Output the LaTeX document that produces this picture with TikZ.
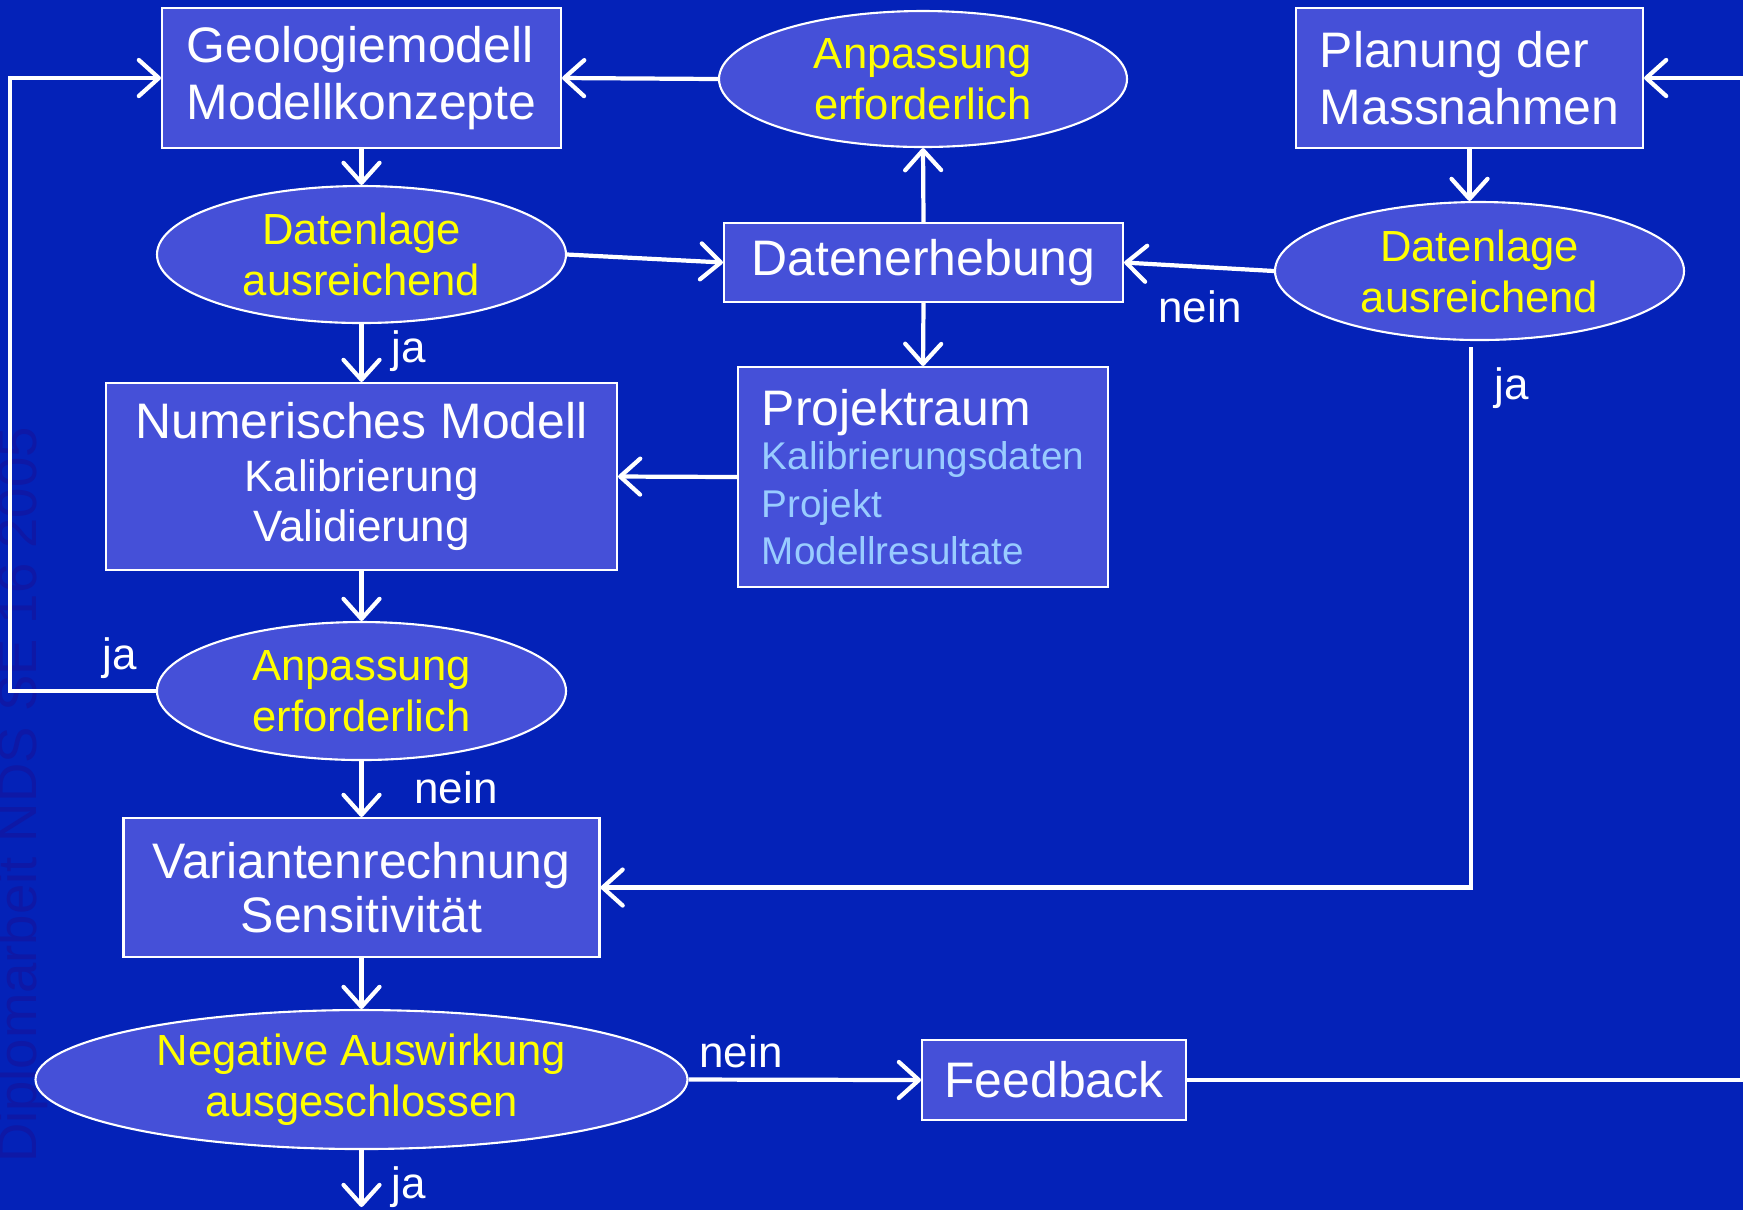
\documentclass[tikz,border=0pt]{standalone}
\usepackage{fontspec}
\setmainfont{Liberation Sans}
\usepackage{tikz}
\usetikzlibrary{shapes.geometric, arrows.meta}
\definecolor{hgBlau}{RGB}{4,34,184}
\definecolor{kastenBlau}{RGB}{69,80,216}
\definecolor{wzBlau}{RGB}{14,24,166}
\definecolor{hellBlau}{RGB}{153,204,255}
\definecolor{gelb}{RGB}{255,255,0}
\newcommand{\kleinSchrift}{\fontsize{12.5}{14.5}\selectfont}
\newcommand{\listeSchrift}{\fontsize{11}{13.3}\selectfont\color{hellBlau}}

\begin{document}
\begin{tikzpicture}[
  x=0.1mm, y=-0.1mm,
  kasten/.style={
    draw=white, line width=0.6pt, fill=kastenBlau, inner sep=0pt,
    text=white, font=\fontsize{14.2}{16.2}\selectfont, align=center
  },
  frage/.style={
    ellipse, draw=white, line width=0.6pt, fill=kastenBlau, inner sep=0pt,
    text=gelb, font=\fontsize{12.4}{14.5}\selectfont, align=center
  },
  pfeil/.style={
    draw=white, line width=1.2pt,
    -{Straight Barb[length=2mm, width=3.6mm, round]}
  },
  marke/.style={text=white, font=\fontsize{12.5}{15}\selectfont, inner sep=0pt}
]
\useasboundingbox (0,0) rectangle (1743,1210);
\fill[hgBlau] (0,0) rectangle (1743,1210);
\node[rotate=90, anchor=base, inner sep=0pt, text=wzBlau,
  font=\fontsize{15.5}{18}\selectfont] (wz) at (36,795) {Diplomarbeit NDS SE 16 2005};

% obere Reihe
\node[kasten, align=left, minimum width=39.9mm, minimum height=14mm] (geo) at (361.5,78) {Geologiemodell\\Modellkonzepte};
\node[frage, minimum width=40.8mm, minimum height=13.6mm] (anpO) at (923,79) {Anpassung\\erforderlich};
\node[kasten, align=left, minimum width=34.7mm, minimum height=14mm] (plan) at (1469.5,78) {Planung der\\Massnahmen};

% Datenlage
\node[frage, minimum width=40.9mm, minimum height=13.7mm] (datL) at (361.5,254.5) {Datenlage\\ausreichend};
\node[kasten, minimum width=39.9mm, minimum height=7.9mm] (erheb) at (923.5,262.5) {Datenerhebung};
\node[frage, minimum width=40.9mm, minimum height=13.8mm] (datR) at (1479.5,271) {Datenlage\\ausreichend};

% Modell
\node[kasten, minimum width=51.1mm, minimum height=18.7mm] (num) at (361.5,476.5) {Numerisches Modell\\[-1pt]{\kleinSchrift Kalibrierung}\\[-2pt]{\kleinSchrift Validierung}};
\node[kasten, align=left, minimum width=37mm, minimum height=22mm] (proj) at (923,477) {Projektraum\\[-3.5pt]{\listeSchrift Kalibrierungsdaten}\\[-2.6pt]{\listeSchrift Projekt}\\[-2.9pt]{\listeSchrift Modellresultate}};
\node[frage, minimum width=40.9mm, minimum height=13.8mm] (anpU) at (361.5,691) {Anpassung\\erforderlich};

% Varianten
\node[kasten, minimum width=47.6mm, minimum height=13.9mm] (var) at (361.5,887.5) {Variantenrechnung\\[-0.7pt]Sensitivität};
\node[frage, minimum width=65.2mm, minimum height=13.9mm] (neg) at (361.5,1079.5) {Negative Auswirkung\\ausgeschlossen};
\node[kasten, minimum width=26.4mm, minimum height=8mm] (fb) at (1054,1080) {Feedback};

\coordinate (abzweig) at (1471,347);
\coordinate (ende) at (361.5,1207);

% Pfeile
\draw[pfeil] (geo.south) -- (datL.north);
\draw[pfeil] (datL.south) -- (num.north);
\draw[pfeil] (datL.east) -- (erheb.west);
\draw[pfeil] (erheb.north) -- (anpO.south);
\draw[pfeil] (anpO.west) -- (geo.east);
\draw[pfeil] (erheb.south) -- (proj.north);
\draw[pfeil] (datR.west) -- (erheb.east);
\draw[pfeil] (plan.south) -- (plan.south |- datR.north);
\draw[pfeil] (proj.west) -- (num.east);
\draw[pfeil] (num.south) -- (anpU.north);
\draw[pfeil] (anpU.west) -- ++(-146,0) |- (geo.west);
\draw[pfeil] (anpU.south) -- (var.north);
\draw[pfeil] (abzweig) |- (var.east);
\draw[pfeil] (var.south) -- (neg.north);
\draw[pfeil] (neg.east) -- (fb.west);
\draw[pfeil] (fb.east) -- ++(555,0) |- (plan.east);
\draw[pfeil] (neg.south) -- (ende);

% Beschriftungen
\node[marke] (jaL) at (120,658) {ja};
\node[marke] (jaM) at (409,351) {ja};
\node[marke] (neinR) at (1200,307) {nein};
\node[marke] (jaRe) at (1512,388) {ja};
\node[marke] (neinM) at (456,788) {nein};
\node[marke] (neinU) at (741,1052) {nein};
\node[marke] (jaU) at (409,1187) {ja};
\end{tikzpicture}
\end{document}
